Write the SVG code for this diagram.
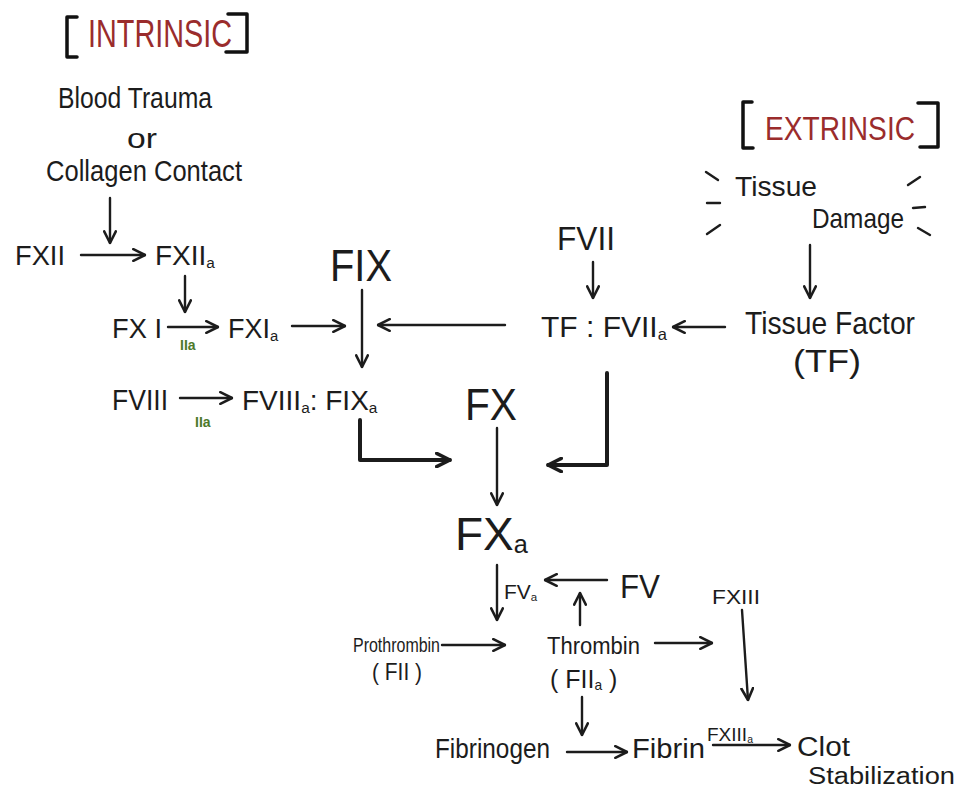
<svg xmlns="http://www.w3.org/2000/svg" width="958" height="789" viewBox="0 0 958 789">
<defs>
<style>
text{font-family:"Liberation Sans","DejaVu Sans",sans-serif;fill:#1c1c1c;}
.red{fill:#9a2c2c;}
.grn{fill:#4e7a2a;font-size:14px;font-weight:bold;}
.br{fill:none;stroke:#111;stroke-width:3.5;stroke-linecap:round;stroke-linejoin:round;}
.ln{fill:none;stroke:#1c1c1c;stroke-width:2.4;stroke-linecap:round;marker-end:url(#ah);}
.thick{fill:none;stroke:#1c1c1c;stroke-width:4;stroke-linecap:round;stroke-linejoin:round;marker-end:url(#ahb);}
.dash{stroke:#1c1c1c;stroke-width:2.4;stroke-linecap:round;}
.sub{font-size:0.55em;}
</style>
<marker id="ah" viewBox="0 0 12 12" refX="11" refY="6" markerWidth="14" markerHeight="14" markerUnits="userSpaceOnUse" orient="auto">
<path d="M1,1 L11,6 L1,11" fill="none" stroke="#1c1c1c" stroke-width="2.2" stroke-linecap="round" stroke-linejoin="round"/>
</marker>
<marker id="ahb" viewBox="0 0 12 12" refX="11" refY="6" markerWidth="16" markerHeight="16" markerUnits="userSpaceOnUse" orient="auto">
<path d="M1,1 L11,6 L1,11" fill="none" stroke="#1c1c1c" stroke-width="2.6" stroke-linecap="round" stroke-linejoin="round"/>
</marker>
</defs>
<rect width="958" height="789" fill="#ffffff"/>

<g id="intrinsic-title">
<path class="br" d="M77,17 H67 V57 H77"/>
<text class="red" x="88" y="47" font-size="38" textLength="144" lengthAdjust="spacingAndGlyphs">INTRINSIC</text>
<path class="br" d="M228,14 H247 V52 H226"/>
</g>
<g id="blood-trauma">
<text x="58" y="108" font-size="29" textLength="154" lengthAdjust="spacingAndGlyphs">Blood Trauma</text>
<text x="127" y="148" font-size="28" textLength="30" lengthAdjust="spacingAndGlyphs">or</text>
<text x="46" y="181" font-size="29" textLength="196" lengthAdjust="spacingAndGlyphs">Collagen Contact</text>
</g>
<g id="fxii"><text x="15" y="265" font-size="28" textLength="50" lengthAdjust="spacingAndGlyphs">FXII</text></g>
<g id="fxiia"><text x="155" y="265" font-size="28">FXII<tspan class="sub" dy="3">a</tspan></text></g>
<g id="fxi"><text x="112" y="338" font-size="27" textLength="50" lengthAdjust="spacingAndGlyphs">FX I</text></g>
<g id="fxia"><text x="228" y="338" font-size="27">FXI<tspan class="sub" dy="3">a</tspan></text></g>
<g id="fix"><text x="330" y="281" font-size="44" textLength="62" lengthAdjust="spacingAndGlyphs">FIX</text></g>
<g id="fviii"><text x="112" y="410" font-size="29" textLength="56" lengthAdjust="spacingAndGlyphs">FVIII</text></g>
<g id="fviiia-fixa"><text x="242" y="410" font-size="28">FVIII<tspan class="sub" dy="3">a</tspan><tspan dy="-3">: FIX</tspan><tspan class="sub" dy="3">a</tspan></text></g>
<g id="fx"><text x="465" y="420" font-size="44" textLength="52" lengthAdjust="spacingAndGlyphs">FX</text></g>
<g id="fxa"><text x="455" y="550" font-size="46">FX<tspan class="sub" dy="3">a</tspan></text></g>
<g id="fvii"><text x="557" y="250" font-size="34" textLength="58" lengthAdjust="spacingAndGlyphs">FVII</text></g>
<g id="tf-fviia"><text x="541" y="337" font-size="30">TF : FVII<tspan class="sub" dy="3">a</tspan></text></g>

<g id="extrinsic-title">
<path class="br" d="M752,102 H743 V148 H753"/>
<text class="red" x="765" y="140" font-size="34" textLength="150" lengthAdjust="spacingAndGlyphs">EXTRINSIC</text>
<path class="br" d="M918,103 H938 V147 H920"/>
</g>
<g id="tissue-damage">
<text x="735" y="196" font-size="28" textLength="82" lengthAdjust="spacingAndGlyphs">Tissue</text>
<text x="812" y="228" font-size="28" textLength="92" lengthAdjust="spacingAndGlyphs">Damage</text>
<line class="dash" x1="706" y1="172" x2="718" y2="180"/>
<line class="dash" x1="707" y1="203" x2="720" y2="203"/>
<line class="dash" x1="707" y1="234" x2="720" y2="225"/>
<line class="dash" x1="908" y1="185" x2="920" y2="177"/>
<line class="dash" x1="913" y1="208" x2="925" y2="207"/>
<line class="dash" x1="918" y1="228" x2="930" y2="235"/>
</g>
<g id="tissue-factor">
<text x="745" y="334" font-size="32" textLength="170" lengthAdjust="spacingAndGlyphs">Tissue Factor</text>
<text x="793" y="372" font-size="32" textLength="68" lengthAdjust="spacingAndGlyphs">(TF)</text>
</g>
<g id="fva"><text x="504" y="599" font-size="21">FV<tspan class="sub" dy="2">a</tspan></text></g>
<g id="fv"><text x="620" y="598" font-size="34" textLength="40" lengthAdjust="spacingAndGlyphs">FV</text></g>
<g id="fxiii"><text x="712" y="604" font-size="21" textLength="48" lengthAdjust="spacingAndGlyphs">FXIII</text></g>
<g id="prothrombin">
<text x="353" y="652" font-size="21" textLength="87" lengthAdjust="spacingAndGlyphs">Prothrombin</text>
<text x="372" y="680" font-size="24" textLength="50" lengthAdjust="spacingAndGlyphs">( FII )</text>
</g>
<g id="thrombin">
<text x="547" y="654" font-size="23" textLength="93" lengthAdjust="spacingAndGlyphs">Thrombin</text>
<text x="550" y="688" font-size="25">( FII<tspan class="sub" dy="2">a</tspan><tspan dy="-2"> )</tspan></text>
</g>
<g id="fibrinogen"><text x="435" y="758" font-size="28" textLength="115" lengthAdjust="spacingAndGlyphs">Fibrinogen</text></g>
<g id="fibrin"><text x="632" y="758" font-size="28" textLength="73" lengthAdjust="spacingAndGlyphs">Fibrin</text></g>
<g id="clot">
<text x="797" y="756" font-size="27" textLength="53" lengthAdjust="spacingAndGlyphs">Clot</text>
<text x="808" y="784" font-size="23" textLength="147" lengthAdjust="spacingAndGlyphs">Stabilization</text>
</g>

<g id="connectors">
<line class="ln" x1="110" y1="198" x2="110" y2="243"/>
<line class="ln" x1="81" y1="255" x2="145" y2="255"/>
<line class="ln" x1="185" y1="276" x2="185" y2="312"/>
<line class="ln" x1="168" y1="327" x2="218" y2="327"/>
<text class="grn" x="180" y="350">IIa</text>
<line class="ln" x1="292" y1="326" x2="345" y2="326"/>
<line class="ln" x1="362" y1="290" x2="362" y2="367"/>
<line class="ln" x1="505" y1="325" x2="378" y2="325"/>
<line class="ln" x1="180" y1="398" x2="232" y2="398"/>
<text class="grn" x="195" y="427">IIa</text>
<path class="thick" d="M360,420 V460 H450"/>
<path class="thick" d="M607,373 V465 H548"/>
<line class="ln" x1="497" y1="428" x2="497" y2="505"/>
<line class="ln" x1="593" y1="262" x2="593" y2="298"/>
<line class="ln" x1="725" y1="327" x2="673" y2="327"/>
<line class="ln" x1="810" y1="245" x2="810" y2="298"/>
<line class="ln" x1="497" y1="565" x2="497" y2="620"/>
<line class="ln" x1="607" y1="580" x2="545" y2="580"/>
<line class="ln" x1="580" y1="625" x2="580" y2="593"/>
<line class="ln" x1="742" y1="610" x2="748" y2="700"/>
<line class="ln" x1="442" y1="645" x2="505" y2="645"/>
<line class="ln" x1="655" y1="643" x2="712" y2="643"/>
<line class="ln" x1="582" y1="697" x2="582" y2="735"/>
<line class="ln" x1="567" y1="752" x2="627" y2="752"/>
<text x="707" y="741" font-size="19">FXIII<tspan class="sub" dy="2">a</tspan></text>
<line class="ln" x1="713" y1="745" x2="790" y2="745"/>
</g>
</svg>
